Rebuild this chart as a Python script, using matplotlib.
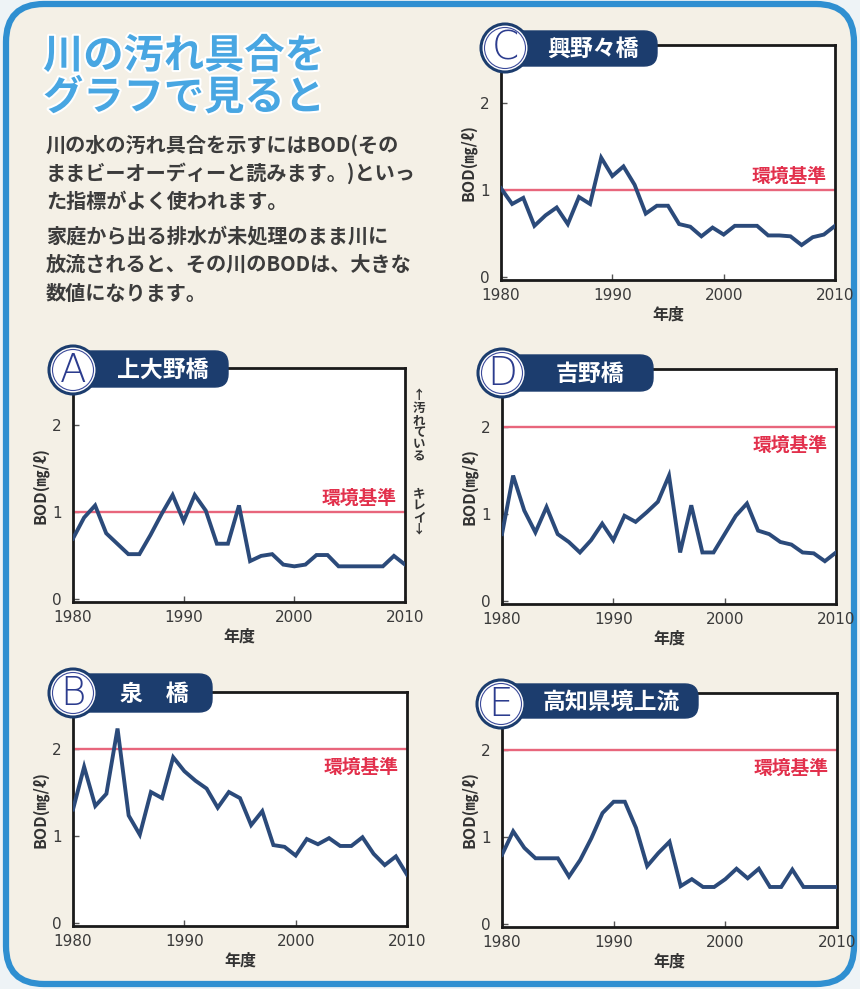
import matplotlib.pyplot as plt
from matplotlib.patches import FancyBboxPatch, Circle
import matplotlib.patheffects as pe

plt.rcParams['font.family'] = ['Noto Sans CJK JP', 'DejaVu Sans']

# BOD (mg/l) per fiscal year
years = list(range(1980, 2011))
bod_a = [0.70, 0.94, 1.08, 0.76, 0.64, 0.52, 0.52, 0.74, 0.98, 1.20, 0.90,
         1.20, 1.02, 0.64, 0.64, 1.08, 0.44, 0.50, 0.52, 0.40, 0.38, 0.40,
         0.51, 0.51, 0.38, 0.38, 0.38, 0.38, 0.38, 0.50, 0.40]
bod_b = [1.31, 1.80, 1.35, 1.49, 2.24, 1.24, 1.02, 1.51, 1.44, 1.91, 1.75,
         1.64, 1.55, 1.33, 1.51, 1.44, 1.13, 1.29, 0.90, 0.88, 0.78, 0.97,
         0.91, 0.98, 0.89, 0.89, 0.99, 0.80, 0.67, 0.77, 0.56]
bod_c = [1.02, 0.84, 0.91, 0.59, 0.71, 0.80, 0.61, 0.92, 0.84, 1.37, 1.16,
         1.27, 1.06, 0.73, 0.82, 0.82, 0.61, 0.58, 0.47, 0.57, 0.49, 0.59,
         0.59, 0.59, 0.48, 0.48, 0.47, 0.37, 0.46, 0.49, 0.59]
bod_d = [0.77, 1.44, 1.04, 0.79, 1.08, 0.77, 0.68, 0.56, 0.70, 0.89, 0.70,
         0.98, 0.91, 1.02, 1.14, 1.44, 0.56, 1.10, 0.56, 0.56, 0.77, 0.98,
         1.12, 0.81, 0.77, 0.68, 0.65, 0.56, 0.55, 0.46, 0.56]
bod_e = [0.80, 1.07, 0.88, 0.76, 0.76, 0.76, 0.55, 0.74, 0.99, 1.28, 1.41,
         1.41, 1.11, 0.67, 0.82, 0.95, 0.44, 0.52, 0.43, 0.43, 0.52, 0.64,
         0.53, 0.64, 0.43, 0.43, 0.63, 0.43, 0.43, 0.43, 0.43]

panel_letters = ['A', 'B', 'C', 'D', 'E']
panel_names = ['上大野橋', '泉　橋', '興野々橋', '吉野橋', '高知県境上流']
standards = [1, 2, 1, 2, 2]
series = [bod_a, bod_b, bod_c, bod_d, bod_e]
xticks = [1980, 1990, 2000, 2010]
yticks = [0, 1, 2]

title = '川の汚れ具合を\nグラフで見ると'
body_lines = ['川の水の汚れ具合を示すにはBOD(その',
              'ままビーオーディーと読みます。)といっ',
              'た指標がよく使われます。',
              '家庭から出る排水が未処理のまま川に',
              '放流されると、その川のBODは、大きな',
              '数値になります。']

W, H = 860, 989
navy = '#1c3d6e'
line_col = '#2b4a7a'
red_line = '#e8667c'
red_txt = '#e2304c'
beige = '#f4f0e6'
blue = '#2f8fd1'

fig = plt.figure(figsize=(W / 100, H / 100), dpi=100)
fig.patch.set_facecolor('#eef3f6')

bg = fig.add_axes([0, 0, 1, 1], zorder=-5)
bg.set_xlim(0, W)
bg.set_ylim(H, 0)
bg.axis('off')
bg.add_patch(FancyBboxPatch((6, 4), W - 12, H - 9,
                            boxstyle='round,pad=0,rounding_size=38',
                            fc=beige, ec=blue, lw=4.5))

# axes boxes in pixels: left, top, right, bottom
boxes = [(73, 368, 405, 602), (73, 692, 407, 926), (501, 45, 835, 280),
         (502, 369, 836, 604), (502, 693, 837, 927)]

for i in range(5):
    l, t, r, b = boxes[i]
    ax = fig.add_axes([l / W, 1 - b / H, (r - l) / W, (b - t) / H])
    ax.set_facecolor('white')
    std = standards[i]
    ax.axhline(std, color=red_line, lw=1.7, zorder=2)
    ax.plot(years, series[i], color=line_col, lw=2.8, zorder=3,
            solid_joinstyle='miter')
    if std == 1:
        ax.text(2009.2, std + 0.16, '環境基準', color=red_txt, fontsize=13.5,
                weight='bold', ha='right', va='center')
    else:
        ax.text(2009.2, std - 0.21, '環境基準', color=red_txt, fontsize=13.5,
                weight='bold', ha='right', va='center')
    ax.set_xlim(1980, 2010)
    ax.set_ylim(-0.03, 2.66)
    ax.set_xticks(xticks)
    ax.set_yticks(yticks)
    ax.set_xticklabels([str(v) for v in xticks], family='DejaVu Sans')
    ax.set_yticklabels([str(v) for v in yticks], family='DejaVu Sans')
    ax.tick_params(direction='in', length=4, width=1, colors='#555555',
                   labelsize=11, labelcolor='#3a3a3a', pad=6)
    ax.tick_params(axis='y', pad=8)
    for s in ax.spines.values():
        s.set_linewidth(2.0)
        s.set_color('#1a1a1a')
    ax.set_xlabel('年度', fontsize=11.5, weight='bold', color='#333333',
                  labelpad=2)
    ax.set_ylabel('BOD(㎎/ℓ)', fontsize=11.5, weight='bold', color='#333333',
                  labelpad=3)

# overlay for labels and text
ov = fig.add_axes([0, 0, 1, 1], zorder=10)
ov.set_xlim(0, W)
ov.set_ylim(H, 0)
ov.axis('off')
ov.patch.set_alpha(0)

# circle centre x, y, box right, box top, box bottom
tags = [(73, 370, 228, 351, 387), (73, 693, 212, 674, 712),
        (505, 48, 657, 31, 66), (502, 373, 653, 355, 391),
        (501, 704, 698, 684, 718)]
for i in range(5):
    cx, cy, br, bt, bb = tags[i]
    ov.add_patch(FancyBboxPatch((cx, bt), br - cx, bb - bt,
                                boxstyle='round,pad=0,rounding_size=13',
                                fc=navy, ec=navy, lw=1))
    ov.add_patch(Circle((cx, cy), 24, fc='white', ec=navy, lw=2.2))
    ov.add_patch(Circle((cx, cy), 20.5, fc='none', ec='#3b4a9a', lw=0.8))
    ov.text(cx, cy + 1, panel_letters[i], fontsize=28, color='#2c3c8e',
            ha='center', va='center', family='DejaVu Sans', weight='light')
    ov.text((cx + 24 + br) / 2, (bt + bb) / 2 + 1, panel_names[i],
            fontsize=16.5, color='white', weight='bold',
            ha='center', va='center')

ov.text(43, 36, title, fontsize=29, color='#48a6e2', weight='bold',
        va='top', linespacing=1.02,
        path_effects=[pe.withStroke(linewidth=3, foreground='white')])

body_y = [145, 173, 201, 236, 264, 293]
for txt, y in zip(body_lines, body_y):
    ov.text(46, y, txt, fontsize=14.5, color='#3c3c3c', weight='bold',
            va='center')

ov.text(419, 463, '↑\n汚\nれ\nて\nい\nる\n\n\nキ\nレ\nイ\n↓', fontsize=9,
        color='#333333', ha='center', va='center', linespacing=0.92,
        weight='bold')

fig.savefig('out.png', dpi=100, facecolor=fig.get_facecolor())
